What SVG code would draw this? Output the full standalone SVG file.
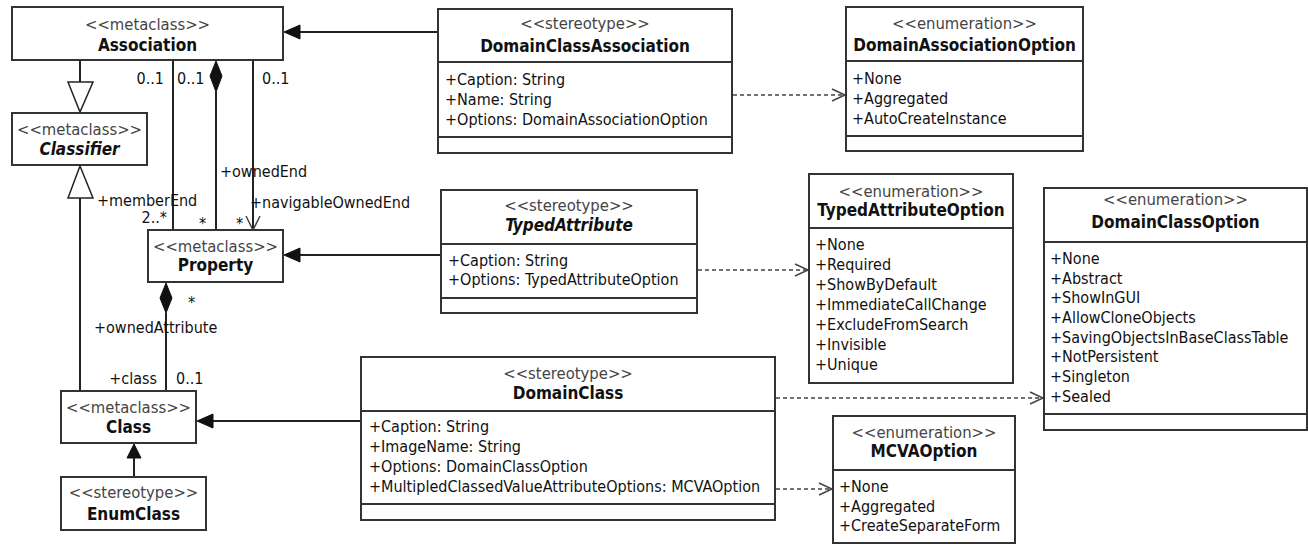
<svg xmlns="http://www.w3.org/2000/svg" width="1308" height="545" viewBox="0 0 1308 545">
<style>
text{font-family:"DejaVu Sans Condensed","DejaVu Sans",sans-serif;font-size:16px;fill:#111}
.st{fill:#444;text-anchor:middle;font-size:16.5px}
.nm{font-weight:bold;text-anchor:middle;font-size:17px}
.it{font-style:italic}
.box{fill:#fff;stroke:#333;stroke-width:2}
.sep{stroke:#333;stroke-width:2}
.ln{stroke:#222;stroke-width:2;fill:none}
.dash{stroke:#444;stroke-width:1.5;stroke-dasharray:4,3;fill:none}
.oa{stroke:#444;stroke-width:1.5;fill:none}
.fill{fill:#111;stroke:#111;stroke-width:1}
.hol{fill:#fff;stroke:#222;stroke-width:1.5}
</style>
<rect width="1308" height="545" fill="#fff"/>

<g id="connectors">
  <!-- Association -> Classifier generalization -->
  <line class="ln" x1="80" y1="60" x2="80" y2="82"/>
  <polygon class="hol" points="68,82 93,82 80,112"/>
  <!-- Class -> Classifier generalization -->
  <line class="ln" x1="80" y1="391" x2="80" y2="198"/>
  <polygon class="hol" points="68,198 93,198 80,166"/>
  <!-- memberEnd -->
  <line class="ln" x1="173" y1="60" x2="173" y2="230"/>
  <!-- ownedEnd -->
  <line class="ln" x1="216" y1="92" x2="216" y2="230"/>
  <polygon class="fill" points="216,61 222,76 216,92 210,76"/>
  <!-- navigableOwnedEnd -->
  <line class="ln" x1="253" y1="60" x2="253" y2="230"/>
  <polyline class="oa" points="246,216 253,230 260,216"/>
  <!-- ownedAttribute -->
  <line class="ln" x1="166" y1="313" x2="166" y2="391"/>
  <polygon class="fill" points="166,283 172,298 166,313 160,298"/>
  <!-- DomainClassAssociation -> Association -->
  <line class="ln" x1="438" y1="32" x2="299" y2="32"/>
  <polygon class="fill" points="284,32 300,25 300,39"/>
  <!-- TypedAttribute -> Property -->
  <line class="ln" x1="441" y1="255" x2="299" y2="255"/>
  <polygon class="fill" points="284,255 300,248 300,262"/>
  <!-- DomainClass -> Class -->
  <line class="ln" x1="361" y1="421" x2="212" y2="421"/>
  <polygon class="fill" points="197,421 213,414 213,428"/>
  <!-- EnumClass -> Class -->
  <line class="ln" x1="134" y1="477" x2="134" y2="457"/>
  <polygon class="fill" points="134,444 127,458 141,458"/>
  <!-- dependencies -->
  <line class="dash" x1="733" y1="95" x2="845" y2="95"/>
  <polyline class="oa" points="832,89 845,95 832,101"/>
  <line class="dash" x1="698" y1="270" x2="808" y2="270"/>
  <polyline class="oa" points="795,264 808,270 795,276"/>
  <line class="dash" x1="776" y1="398" x2="1043" y2="398"/>
  <polyline class="oa" points="1030,392 1043,398 1030,404"/>
  <line class="dash" x1="776" y1="489" x2="832" y2="489"/>
  <polyline class="oa" points="819,483 832,489 819,495"/>
  <!-- labels -->
  <text x="164" y="84" text-anchor="end">0..1</text>
  <text x="177" y="84">0..1</text>
  <text x="262" y="84">0..1</text>
  <text x="220" y="177">+ownedEnd</text>
  <text x="97" y="206">+memberEnd</text>
  <text x="167" y="223" text-anchor="end">2..*</text>
  <text x="199" y="229">*</text>
  <text x="236" y="229">*</text>
  <text x="250" y="208">+navigableOwnedEnd</text>
  <text x="188" y="308">*</text>
  <text x="94" y="333">+ownedAttribute</text>
  <text x="157" y="384" text-anchor="end">+class</text>
  <text x="176" y="384">0..1</text>
</g>

<g id="Association">
  <rect class="box" x="12" y="7" width="271" height="53"/>
  <text class="st" x="147.5" y="30">&lt;&lt;metaclass&gt;&gt;</text>
  <text class="nm" x="147.5" y="51">Association</text>
</g>
<g id="Classifier">
  <rect class="box" x="12" y="113" width="135" height="52"/>
  <text class="st" x="79.5" y="135">&lt;&lt;metaclass&gt;&gt;</text>
  <text class="nm it" x="79.5" y="155">Classifier</text>
</g>
<g id="Property">
  <rect class="box" x="148" y="230" width="135" height="52"/>
  <text class="st" x="215.5" y="252">&lt;&lt;metaclass&gt;&gt;</text>
  <text class="nm" x="215.5" y="271">Property</text>
</g>
<g id="Class">
  <rect class="box" x="61" y="391" width="135" height="52"/>
  <text class="st" x="128.5" y="413">&lt;&lt;metaclass&gt;&gt;</text>
  <text class="nm" x="128.5" y="433">Class</text>
</g>
<g id="EnumClass">
  <rect class="box" x="61" y="477" width="145" height="53"/>
  <text class="st" x="133.5" y="498">&lt;&lt;stereotype&gt;&gt;</text>
  <text class="nm" x="133.5" y="520">EnumClass</text>
</g>

<g id="DomainClassAssociation">
  <rect class="box" x="438" y="9" width="294" height="144"/>
  <line class="sep" x1="438" y1="62" x2="732" y2="62"/>
  <line class="sep" x1="438" y1="137" x2="732" y2="137"/>
  <text class="st" x="585" y="29">&lt;&lt;stereotype&gt;&gt;</text>
  <text class="nm" x="585" y="52">DomainClassAssociation</text>
  <text x="445" y="85">+Caption: String</text>
  <text x="445" y="105">+Name: String</text>
  <text x="445" y="125">+Options: DomainAssociationOption</text>
</g>

<g id="TypedAttribute">
  <rect class="box" x="441" y="190" width="256" height="123"/>
  <line class="sep" x1="441" y1="244" x2="697" y2="244"/>
  <line class="sep" x1="441" y1="298" x2="697" y2="298"/>
  <text class="st" x="569" y="211">&lt;&lt;stereotype&gt;&gt;</text>
  <text class="nm it" x="569" y="231">TypedAttribute</text>
  <text x="448" y="266">+Caption: String</text>
  <text x="448" y="285">+Options: TypedAttributeOption</text>
</g>

<g id="DomainClass">
  <rect class="box" x="361" y="357" width="414" height="163"/>
  <line class="sep" x1="361" y1="411" x2="775" y2="411"/>
  <line class="sep" x1="361" y1="504" x2="775" y2="504"/>
  <text class="st" x="568" y="379">&lt;&lt;stereotype&gt;&gt;</text>
  <text class="nm" x="568" y="399">DomainClass</text>
  <text x="369" y="432">+Caption: String</text>
  <text x="369" y="452">+ImageName: String</text>
  <text x="369" y="472">+Options: DomainClassOption</text>
  <text x="369" y="492">+MultipledClassedValueAttributeOptions: MCVAOption</text>
</g>

<g id="DomainAssociationOption">
  <rect class="box" x="846" y="7" width="237" height="144"/>
  <line class="sep" x1="846" y1="61" x2="1083" y2="61"/>
  <line class="sep" x1="846" y1="136" x2="1083" y2="136"/>
  <text class="st" x="964.5" y="29">&lt;&lt;enumeration&gt;&gt;</text>
  <text class="nm" x="964.5" y="51">DomainAssociationOption</text>
  <text x="852" y="84">+None</text>
  <text x="852" y="104">+Aggregated</text>
  <text x="852" y="124">+AutoCreateInstance</text>
</g>

<g id="TypedAttributeOption">
  <rect class="box" x="809" y="174" width="204" height="209"/>
  <line class="sep" x1="809" y1="228" x2="1013" y2="228"/>
  <text class="st" x="911" y="197">&lt;&lt;enumeration&gt;&gt;</text>
  <text class="nm" x="911" y="216">TypedAttributeOption</text>
  <text x="815" y="250">+None</text>
  <text x="815" y="270">+Required</text>
  <text x="815" y="290">+ShowByDefault</text>
  <text x="815" y="310">+ImmediateCallChange</text>
  <text x="815" y="330">+ExcludeFromSearch</text>
  <text x="815" y="350">+Invisible</text>
  <text x="815" y="370">+Unique</text>
</g>

<g id="DomainClassOption">
  <rect class="box" x="1044" y="188" width="263" height="242"/>
  <line class="sep" x1="1044" y1="242" x2="1307" y2="242"/>
  <line class="sep" x1="1044" y1="414" x2="1307" y2="414"/>
  <text class="st" x="1175.5" y="205">&lt;&lt;enumeration&gt;&gt;</text>
  <text class="nm" x="1175.5" y="228">DomainClassOption</text>
  <text x="1050" y="264">+None</text>
  <text x="1050" y="284">+Abstract</text>
  <text x="1050" y="303">+ShowInGUI</text>
  <text x="1050" y="323">+AllowCloneObjects</text>
  <text x="1050" y="343">+SavingObjectsInBaseClassTable</text>
  <text x="1050" y="362">+NotPersistent</text>
  <text x="1050" y="382">+Singleton</text>
  <text x="1050" y="402">+Sealed</text>
</g>

<g id="MCVAOption">
  <rect class="box" x="833" y="416" width="182" height="127"/>
  <line class="sep" x1="833" y1="470" x2="1015" y2="470"/>
  <text class="st" x="924" y="438">&lt;&lt;enumeration&gt;&gt;</text>
  <text class="nm" x="924" y="457">MCVAOption</text>
  <text x="839" y="492">+None</text>
  <text x="839" y="512">+Aggregated</text>
  <text x="839" y="531">+CreateSeparateForm</text>
</g>
</svg>
